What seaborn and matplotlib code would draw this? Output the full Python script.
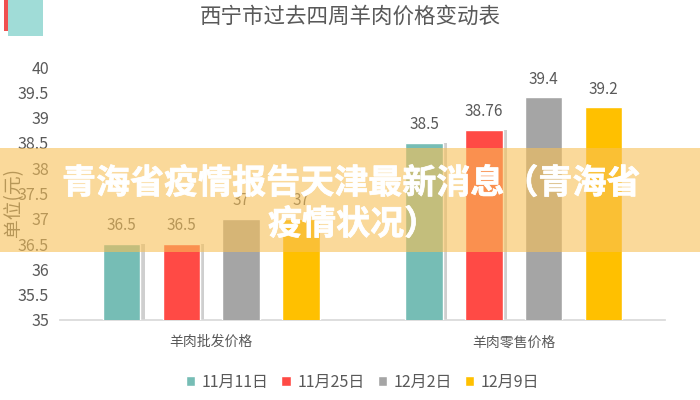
import matplotlib
matplotlib.use("Agg")
import matplotlib.pyplot as plt
import matplotlib.patheffects as pe
from matplotlib.patches import Rectangle
import seaborn as sns
import pandas as pd

categories = ["羊肉批发价格", "羊肉零售价格"]
series = ["11月11日", "11月25日", "12月2日", "12月9日"]
wholesale = [36.5, 36.5, 37, 37]
retail = [38.5, 38.76, 39.4, 39.2]
value_labels_wholesale = ["36.5", "36.5", "37", "37"]
value_labels_retail = ["38.5", "38.76", "39.4", "39.2"]
yticks = [35, 35.5, 36, 36.5, 37, 37.5, 38, 38.5, 39, 39.5, 40]
ytick_labels = ["35", "35.5", "36", "36.5", "37", "37.5", "38", "38.5", "39", "39.5", "40"]
colors = ["#76bdb5", "#ff4a45", "#a5a5a5", "#ffc000"]
title = "西宁市过去四周羊肉价格变动表"
ylabel = "单位(元)"
banner_line1 = "青海省疫情报告天津最新消息（青海省"
banner_line2 = "疫情状况）"

sns.set_theme(style="white")
plt.rcParams['font.family'] = ['Noto Sans CJK SC', 'DejaVu Sans']
TXT = "#595959"

rows = []
for s, v in zip(series, wholesale):
    rows.append({"cat": categories[0], "series": s, "value": v})
for s, v in zip(series, retail):
    rows.append({"cat": categories[1], "series": s, "value": v})
df = pd.DataFrame(rows)

fig = plt.figure(figsize=(7, 4), dpi=100)
ax = fig.add_axes([60/700, 0.2, 605/700, 253/400])

sns.barplot(data=df, x="cat", y="value", hue="series", order=categories,
            hue_order=series, palette=colors, width=0.79, gap=0.37,
            ax=ax, legend=True, zorder=3, saturation=1)

ax.set_ylim(35, 40)
ax.set_xlim(-0.5, 1.5)
ax.set_yticks(yticks)
ax.set_yticklabels(ytick_labels, fontsize=11.5, color=TXT)
ax.tick_params(axis='y', length=0, pad=8)
ax.tick_params(axis='x', length=0, pad=11)
ax.set_xticks([0, 1])
ax.set_xticklabels(categories, fontsize=10, color=TXT)
ax.set_xlabel("")
ax.set_ylabel("")
for side in ["top", "right", "left"]:
    ax.spines[side].set_visible(False)
ax.spines["bottom"].set_color("#d9d9d9")

# bar shadows (for the first two series) and value labels
value_labels = [value_labels_wholesale, value_labels_retail]
for idx, c in enumerate(ax.containers):
    for j, p in enumerate(c.patches):
        x = p.get_x() + p.get_width() / 2
        top = p.get_y() + p.get_height()
        ax.annotate(value_labels[j][idx], (x, top), xytext=(0, 7),
                    textcoords="offset points", ha="center", va="bottom",
                    fontsize=11, color=TXT, zorder=5)
        if idx in (0, 1):
            sh = Rectangle((p.get_x() + p.get_width() * 1.02, p.get_y()),
                           p.get_width() * 0.09, p.get_height(),
                           facecolor="#b0b0b0", edgecolor="none", alpha=0.6, zorder=2)
            ax.add_patch(sh)

leg = ax.legend(loc="center", bbox_to_anchor=(0.5, -0.245), ncol=4, frameon=False,
                fontsize=11.5, handlelength=0.6, handleheight=0.6, handletextpad=0.4,
                columnspacing=0.8)
for t in leg.get_texts():
    t.set_color(TXT)

fig.text(350/700, 1 - 17/400, title, ha="center", va="center", fontsize=15.5, color=TXT)
fig.text(14/700, 1 - 203/400, ylabel, ha="center", va="center", rotation=90,
         fontsize=13.5, color=TXT)

# decorative corner
fig.patches.append(Rectangle((8/700, 1 - 36/400), 35/700, 36/400, transform=fig.transFigure,
                             facecolor="#a0dcd7", edgecolor="none", zorder=1))
fig.patches.append(Rectangle((4/700, 1 - 31/400), 4/700, 31/400, transform=fig.transFigure,
                             facecolor="#f05050", edgecolor="none", zorder=1))

# overlay banner
fig.patches.append(Rectangle((0, 1 - 252/400), 1, 104/400, transform=fig.transFigure,
                             facecolor=(247/255, 192/255, 87/255), alpha=0.6,
                             edgecolor="none", zorder=10))
effects = [pe.withStroke(linewidth=0.5, foreground="white")]
fig.text(351/700, 1 - 183/400, banner_line1, ha="center", va="center", fontsize=24.5,
         color="white", fontweight="bold", zorder=11, path_effects=effects)
fig.text(353/700, 1 - 224/400, banner_line2, ha="center", va="center", fontsize=24.5,
         color="white", fontweight="bold", zorder=11, path_effects=effects)

fig.savefig("out.png", dpi=100)
